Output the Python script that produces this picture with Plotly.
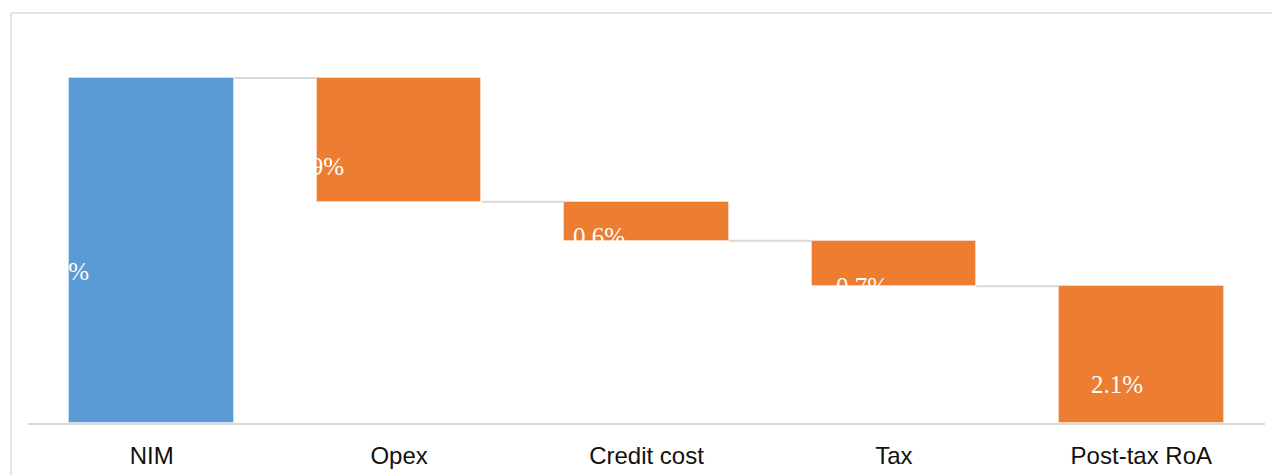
import plotly.graph_objects as go

# Waterfall from net interest margin down to post-tax return on assets (% of assets)
categories = ["NIM", "Opex", "Credit cost", "Tax", "Post-tax RoA"]
values = [5.3, -1.9, -0.6, -0.7, 2.1]
labels = ["5.3%", "1.9%", "0.6%", "0.7%", "2.1%"]
kinds = ["total", "step", "step", "step", "total"]

BLUE = "#5B9BD5"
ORANGE = "#ED7D31"
GRID = "#D9D9D9"
BAR_W = 0.666

# running level: totals start from zero, steps hang from the previous level
bases, heights, levels = [], [], []
level = 0.0
for v, k in zip(values, kinds):
    if k == "total":
        bases.append(0.0)
        heights.append(v)
        level = v
    else:
        bases.append(level + v)
        heights.append(-v)
        level = level + v
    levels.append(level)
colors = [BLUE] + [ORANGE] * (len(values) - 1)

xs = list(range(len(categories)))

fig = go.Figure()

# connectors between consecutive bars
cx, cy = [], []
for i in range(len(categories) - 1):
    lv = levels[i]
    cx += [xs[i] + BAR_W / 2, xs[i + 1] - BAR_W / 2, None]
    cy += [lv, lv, None]
fig.add_trace(go.Scatter(x=cx, y=cy, mode="lines",
                         line=dict(color=GRID, width=2),
                         hoverinfo="skip", showlegend=False))

fig.add_trace(go.Bar(
    x=xs, y=heights, base=bases, width=BAR_W,
    marker=dict(color=colors, line=dict(color="rgba(255,255,255,0.35)", width=1)),
    showlegend=False, hoverinfo="skip",
))

# value labels in white serif type, set off to the left of each bar
label_dx = [-0.36, -0.328, -0.192, -0.129, -0.098]
label_y = [2.335, 3.948, 2.86, 2.09, 0.599]
for i, t in enumerate(labels):
    fig.add_annotation(x=xs[i] + label_dx[i], y=label_y[i], text=t, showarrow=False,
                       xanchor="center", yanchor="middle",
                       font=dict(family="Liberation Serif", size=25, color="white"))

W, H = 1272, 475
ML, MR, MT, MB = 28, 7, 13, 52
pw, ph = W - ML - MR, H - MT - MB

# light frame around the chart (left and top edges)
fx0 = (11 - ML) / pw
fig.add_shape(type="line", xref="paper", yref="paper", x0=fx0, x1=fx0,
              y0=-MB / ph - 0.01, y1=1, line=dict(color=GRID, width=1.5))
fig.add_shape(type="line", xref="paper", yref="paper", x0=fx0, x1=1 + (MR + 5) / pw,
              y0=1, y1=1, line=dict(color=GRID, width=1.5))

fig.update_layout(
    width=W, height=H,
    margin=dict(l=ML, r=MR, t=MT, b=MB, autoexpand=False),
    paper_bgcolor="white", plot_bgcolor="white",
    bargap=0,
    xaxis=dict(range=[-0.5, len(categories) - 0.5], tickmode="array", tickvals=xs,
               ticktext=categories, showgrid=False, zeroline=False,
               showline=True, linecolor=GRID, linewidth=2, ticks="",
               ticklabelstandoff=10, automargin=False,
               tickfont=dict(family="Liberation Sans", size=24, color="#111111"),
               fixedrange=True),
    yaxis=dict(range=[0, 6.299], visible=False, showgrid=False, zeroline=False,
               fixedrange=True),
)

fig.write_html("out.html", config={"displayModeBar": False})
